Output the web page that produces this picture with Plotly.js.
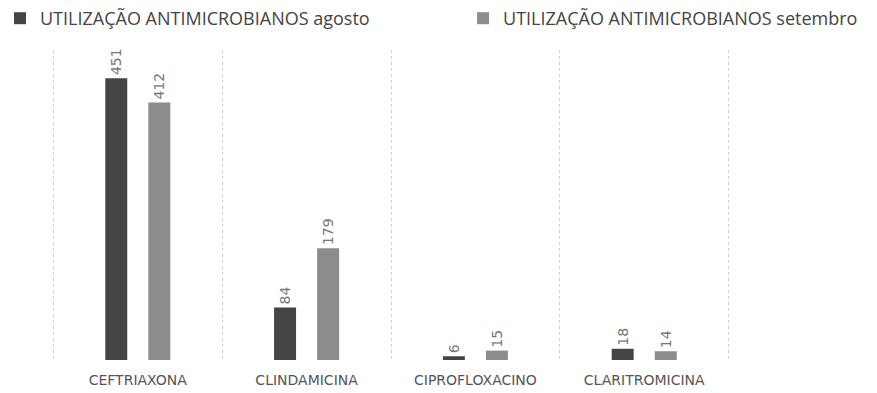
<!DOCTYPE html>
<html>
<head>
<meta charset="utf-8">
<script src="https://cdn.plot.ly/plotly-3.0.1.min.js"></script>
<style>html,body{margin:0;padding:0;background:#fff;}#chart{width:877px;height:393px;}</style>
</head>
<body>
<div id="chart"></div>
<script>
const categories = ["CEFTRIAXONA", "CLINDAMICINA", "CIPROFLOXACINO", "CLARITROMICINA"];
const agosto = [451, 84, 6, 18];
const setembro = [412, 179, 15, 14];
const seriesNames = ["UTILIZAÇÃO ANTIMICROBIANOS agosto", "UTILIZAÇÃO ANTIMICROBIANOS setembro"];

const labelFont = {family: "DejaVu Sans", size: 14, color: "#777"};
const traces = [
  {type: "bar", name: seriesNames[0], x: categories, y: agosto, marker: {color: "#444"},
   text: agosto.map(String), textposition: "outside", textangle: -90, textfont: labelFont,
   cliponaxis: false, constraintext: "none", legend: "legend"},
  {type: "bar", name: seriesNames[1], x: categories, y: setembro, marker: {color: "#8c8c8c"},
   text: setembro.map(String), textposition: "outside", textangle: -90, textfont: labelFont,
   cliponaxis: false, constraintext: "none", legend: "legend2"}
];
const legendFont = {family: "Open Sans", size: 18, color: "#444"};
const layout = {
  width: 877, height: 393,
  margin: {l: 50, r: 145, t: 50, b: 33},
  paper_bgcolor: "#fff", plot_bgcolor: "#fff",
  barmode: "group", bargap: 0.49, bargroupgap: 0.49,
  showlegend: true,
  legend: {orientation: "h", xref: "container", yref: "container", x: -0.024, y: 1, yanchor: "top", xanchor: "left",
    font: legendFont, itemwidth: 30, bgcolor: "rgba(0,0,0,0)", borderwidth: 0},
  legend2: {orientation: "h", xref: "container", yref: "container", x: 0.528, y: 1, yanchor: "top", xanchor: "left",
    font: legendFont, itemwidth: 30, bgcolor: "rgba(0,0,0,0)", borderwidth: 0},
  xaxis: {type: "category", range: [-0.52, 3.52], tickson: "boundaries", showgrid: true, gridcolor: "#cfcfcf", griddash: "dot", gridwidth: 1,
    ticks: "", tickangle: 0, showline: false, zeroline: false, ticklabelstandoff: 10,
    tickfont: {family: "DejaVu Sans", size: 14, color: "#555"}},
  yaxis: {range: [0, 496], showgrid: false, zeroline: false, showticklabels: false, showline: false, ticks: ""},
  font: {family: "Open Sans"}
};
Plotly.newPlot("chart", traces, layout, {displayModeBar: false, staticPlot: true});
</script>
</body>
</html>
